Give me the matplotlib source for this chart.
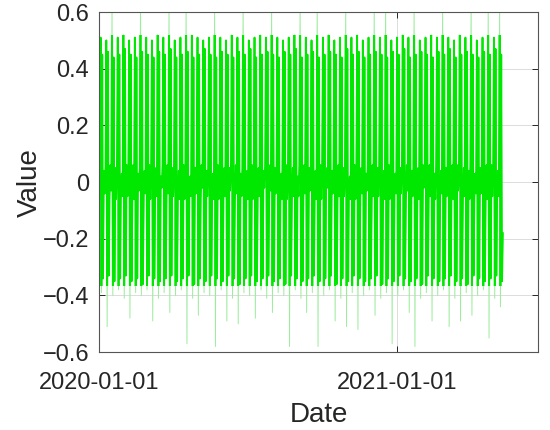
import matplotlib
matplotlib.use("Agg")
import matplotlib.pyplot as plt
from matplotlib.patches import Rectangle
import pandas as pd

plt.rcParams['font.family'] = ['Liberation Sans', 'DejaVu Sans']

start_date = '2020-01-01'

# weekly peaks / troughs (one entry per week)
week_high = [
    0.51, 0.50, 0.63, 0.51, 0.52, 0.50, 0.51, 0.64, 0.51, 0.50,
    0.52, 0.51, 0.62, 0.50, 0.51, 0.63, 0.52, 0.51, 0.50, 0.51,
    0.64, 0.51, 0.50, 0.52, 0.51, 0.63, 0.50, 0.51, 0.52, 0.51,
    0.62, 0.51, 0.50, 0.51, 0.52, 0.64, 0.51, 0.50, 0.63, 0.51,
    0.52, 0.50, 0.51, 0.62, 0.51, 0.52, 0.50, 0.51, 0.63, 0.51,
    0.64, 0.50, 0.51, 0.52, 0.51, 0.62, 0.50, 0.51, 0.52, 0.51,
    0.63, 0.51, 0.50, 0.52, 0.51, 0.64, 0.50, 0.51, 0.62, 0.51,
    0.63]
week_low = [
    -0.39, -0.51, -0.40, -0.38, -0.41, -0.48, -0.39, -0.40, -0.38, -0.49,
    -0.41, -0.39, -0.46, -0.40, -0.38, -0.57, -0.41, -0.47, -0.39, -0.40,
    -0.58, -0.38, -0.49, -0.41, -0.50, -0.39, -0.40, -0.48, -0.38, -0.41,
    -0.46, -0.39, -0.40, -0.58, -0.38, -0.41, -0.46, -0.39, -0.58, -0.40,
    -0.38, -0.49, -0.41, -0.51, -0.39, -0.52, -0.40, -0.38, -0.47, -0.41,
    -0.39, -0.57, -0.40, -0.38, -0.46, -0.58, -0.41, -0.39, -0.49, -0.40,
    -0.38, -0.51, -0.41, -0.49, -0.39, -0.47, -0.40, -0.38, -0.55, -0.41,
    -0.44]
week_high2 = [
    0.45, 0.46, 0.44, 0.45, 0.47, 0.45, 0.44, 0.46, 0.45, 0.44,
    0.46, 0.45, 0.47, 0.44, 0.45, 0.46, 0.44, 0.45, 0.47, 0.45,
    0.44, 0.46, 0.45, 0.44, 0.46, 0.45, 0.47, 0.44, 0.45, 0.46,
    0.45, 0.44, 0.46, 0.45, 0.47, 0.44, 0.45, 0.46, 0.44, 0.45,
    0.46, 0.45, 0.44, 0.47, 0.45, 0.46, 0.44, 0.45, 0.46, 0.45,
    0.44, 0.46, 0.45, 0.47, 0.44, 0.45, 0.46, 0.45, 0.44, 0.46,
    0.45, 0.47, 0.44, 0.45, 0.46, 0.45, 0.44, 0.46, 0.45, 0.47,
    0.45]
week_low2 = [
    -0.34, -0.33, -0.35, -0.34, -0.33, -0.35, -0.34, -0.36, -0.33, -0.34,
    -0.35, -0.34, -0.33, -0.35, -0.34, -0.33, -0.36, -0.34, -0.35, -0.33,
    -0.34, -0.35, -0.33, -0.34, -0.36, -0.34, -0.33, -0.35, -0.34, -0.33,
    -0.35, -0.34, -0.36, -0.33, -0.34, -0.35, -0.34, -0.33, -0.35, -0.34,
    -0.33, -0.36, -0.34, -0.35, -0.33, -0.34, -0.35, -0.34, -0.33, -0.36,
    -0.34, -0.35, -0.33, -0.34, -0.35, -0.34, -0.36, -0.33, -0.34, -0.35,
    -0.34, -0.33, -0.35, -0.34, -0.36, -0.33, -0.34, -0.35, -0.34, -0.33,
    -0.35]
# the quiet days of each week (middle band)
mid_days = [
    [0.05, -0.06, 0.04], [-0.04, 0.06, -0.05], [0.06, -0.03, 0.05], [-0.06, 0.05, -0.02],
    [0.03, -0.05, 0.06], [-0.05, 0.04, -0.06], [0.06, -0.06, 0.03], [-0.03, 0.05, -0.05],
    [0.04, -0.04, 0.06], [-0.06, 0.06, -0.04], [0.05, -0.05, 0.02], [-0.02, 0.06, -0.06],
    [0.06, -0.04, 0.05], [-0.05, 0.03, -0.04], [0.04, -0.06, 0.06], [-0.06, 0.05, -0.03],
    [0.02, -0.05, 0.05], [-0.04, 0.06, -0.06], [0.06, -0.02, 0.04], [-0.05, 0.05, -0.05],
    [0.03, -0.06, 0.06], [-0.06, 0.04, -0.02], [0.05, -0.05, 0.05], [-0.03, 0.06, -0.06],
    [0.06, -0.04, 0.03], [-0.05, 0.05, -0.04], [0.04, -0.06, 0.06], [-0.06, 0.03, -0.05],
    [0.05, -0.05, 0.04], [-0.02, 0.06, -0.06], [0.06, -0.03, 0.05], [-0.04, 0.05, -0.03],
    [0.03, -0.06, 0.06], [-0.06, 0.04, -0.05], [0.05, -0.05, 0.02], [-0.05, 0.06, -0.06],
    [0.06, -0.04, 0.05], [-0.03, 0.05, -0.04], [0.04, -0.06, 0.06], [-0.06, 0.06, -0.02],
    [0.05, -0.02, 0.04], [-0.04, 0.05, -0.06], [0.06, -0.05, 0.05], [-0.05, 0.03, -0.03],
    [0.02, -0.06, 0.06], [-0.06, 0.05, -0.05], [0.05, -0.04, 0.03], [-0.03, 0.06, -0.06],
    [0.06, -0.05, 0.05], [-0.05, 0.04, -0.04], [0.04, -0.06, 0.06], [-0.06, 0.05, -0.03],
    [0.03, -0.04, 0.05], [-0.04, 0.06, -0.06], [0.06, -0.03, 0.04], [-0.05, 0.05, -0.05],
    [0.05, -0.06, 0.06], [-0.02, 0.04, -0.04], [0.06, -0.05, 0.03], [-0.06, 0.06, -0.06],
    [0.04, -0.04, 0.05], [-0.05, 0.05, -0.02], [0.06, -0.06, 0.06], [-0.03, 0.03, -0.05],
    [0.05, -0.05, 0.04], [-0.06, 0.06, -0.06], [0.03, -0.04, 0.05], [-0.04, 0.05, -0.03],
    [0.06, -0.06, 0.06], [-0.05, 0.04, -0.04], [0.04, -0.05, -0.18]]

y_ticks = [-0.6, -0.4, -0.2, 0, 0.2, 0.4, 0.6]
y_tick_labels = ['\u22120.6', '\u22120.4', '\u22120.2', '0', '0.2', '0.4', '0.6']
x_ticks = ['2020-01-01', '2021-01-01']
x_limits = ['2020-01-01', '2021-06-23']


def build_series():
    values = []
    for w in range(len(week_high)):
        m = mid_days[w]
        values += [m[0], m[1], week_high[w], week_low[w], week_high2[w], week_low2[w], m[2]]
    dates = pd.date_range(start_date, periods=len(values), freq='D')
    return dates, values


def main():
    dates, values = build_series()

    fig = plt.figure(figsize=(5.5, 4.3), dpi=100)
    ax = fig.add_axes([0.18, 0.181, 0.798, 0.791])

    # thin pale pass shows the rare spikes, thick pass gives the dense body
    ax.plot(dates, values, color='#9cec9c', linewidth=0.7)
    body, = ax.plot(dates, values, color='#00e800', linewidth=1.3)
    clip = Rectangle((0, -0.365), 1, 0.885, transform=ax.get_yaxis_transform())
    body.set_clip_path(clip)

    ax.set_ylim(-0.6, 0.6)
    ax.set_xlim(pd.Timestamp(x_limits[0]), pd.Timestamp(x_limits[1]))
    ax.set_yticks(y_ticks)
    ax.set_yticklabels(y_tick_labels)
    ax.set_xticks([pd.Timestamp(d) for d in x_ticks])
    ax.set_xticklabels(x_ticks)

    ax.grid(True, color='#dcdcdc', linewidth=0.7)
    ax.set_axisbelow(True)
    ax.tick_params(direction='in', length=4, width=0.7, colors='#262626',
                   labelsize=17, top=True, right=True)
    ax.tick_params(axis='x', pad=14)
    ax.tick_params(axis='y', pad=7)
    for s in ax.spines.values():
        s.set_color('#555555')
        s.set_linewidth(0.8)

    ax.set_xlabel('Date', fontsize=20, color='#262626', labelpad=6)
    ax.set_ylabel('Value', fontsize=20, color='#262626', labelpad=0)

    fig.savefig('out.png', dpi=100)


if __name__ == "__main__":
    main()
